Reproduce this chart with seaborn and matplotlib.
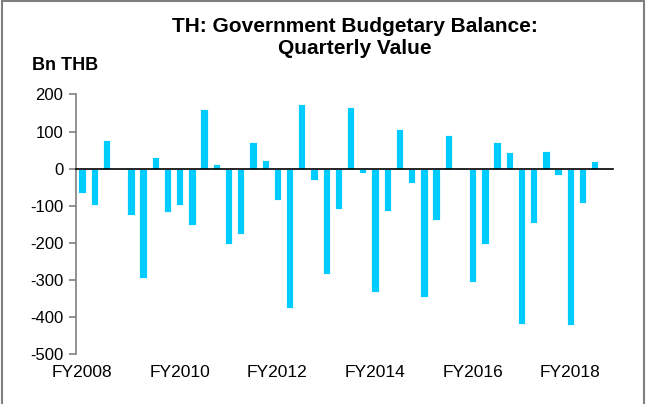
import numpy as np
import matplotlib
matplotlib.use('Agg')
import matplotlib.pyplot as plt
from matplotlib.patches import Rectangle
import seaborn as sns

# fiscal years and quarterly balance (Bn THB)
years = list(range(2008, 2019))
quarters = [f'FY{y}Q{q}' for y in years for q in range(1, 5)]
balance = [
    -67, -98, 77, 0,        # FY2008
    -125, -294, 31, -117,   # FY2009
    -97, -151, 161, 13,     # FY2010
    -203, -176, 73, 22,     # FY2011
    -84, -377, 174, -30,    # FY2012
    -283, -108, 166, -11,   # FY2013
    -334, -115, 106, -38,   # FY2014
    -347, -139, 91, 2,      # FY2015
    -307, -203, 72, 46,     # FY2016
    -419, -146, 47, -16,    # FY2017
    -421, -92, 20, 2,       # FY2018
]
label_years = ['FY2008', 'FY2010', 'FY2012', 'FY2014', 'FY2016', 'FY2018']
y_ticks = [200, 100, 0, -100, -200, -300, -400, -500]

sns.set_style('white')
plt.rcParams['font.family'] = ['Liberation Sans', 'DejaVu Sans']
plt.rcParams['text.color'] = 'black'
plt.rcParams['xtick.labelcolor'] = 'black'
plt.rcParams['ytick.labelcolor'] = 'black'

fig = plt.figure(figsize=(6.46, 4.04), dpi=100)
ax = fig.add_axes([0.1176, 0.1238, 0.8314, 0.6423])

sns.barplot(x=quarters, y=balance, color='#00CCFF', saturation=1,
            width=0.6, edgecolor='white', linewidth=0.6, ax=ax)

ax.set_xlim(-0.5, len(quarters) - 0.5)
ax.set_ylim(-500, 200)
ax.set_yticks(y_ticks)
ax.set_yticklabels([str(v) for v in y_ticks], fontsize=12, color='black')
ax.set_xlabel('')
ax.set_ylabel('')

# year boundary ticks on the zero line
ax.set_xticks(np.arange(3.5, len(quarters), 4))
ax.set_xticklabels([])
ax.spines['top'].set_visible(False)
ax.spines['right'].set_visible(False)
ax.spines['bottom'].set_position(('data', 0))
ax.spines['bottom'].set_color('black')
ax.spines['bottom'].set_linewidth(1.2)
ax.spines['left'].set_color('#7f7f7f')
ax.spines['left'].set_linewidth(1.2)
ax.tick_params(axis='x', direction='out', length=5, width=1.2, color='#555555')
ax.tick_params(axis='y', direction='out', length=5, width=1.2, color='#7f7f7f',
               left=True, pad=4)

# year labels at the bottom of the plot
label_pos = [quarters.index(y + 'Q1') for y in label_years]
sec = ax.secondary_xaxis('bottom')
sec.set_xticks(label_pos, label_years, fontsize=12.5, color='black')
sec.tick_params(length=0, pad=8)
sec.spines['bottom'].set_visible(False)

fig.text(0.55, 0.907, 'TH: Government Budgetary Balance:\nQuarterly Value',
         ha='center', va='center', fontsize=15, fontweight='bold',
         linespacing=1.15, color='black')
fig.text(0.05, 0.837, 'Bn THB', ha='left', va='center', fontsize=13,
         fontweight='bold', color='black')

fig.patches.append(Rectangle((0.003, -0.01), 0.994, 1.007, transform=fig.transFigure,
                             fill=False, edgecolor='#7f7f7f', linewidth=1.5))

fig.savefig('out.png', dpi=100)
